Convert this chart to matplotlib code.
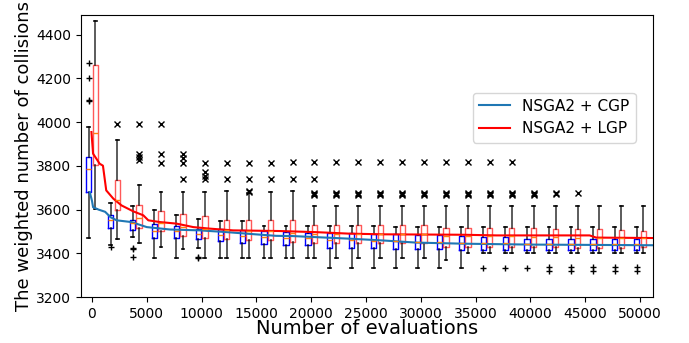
import matplotlib
matplotlib.use("Agg")
import matplotlib.pyplot as plt

# evaluation checkpoints for the boxes
evals = list(range(0, 50001, 2000))

# NSGA2 + CGP boxes
cgp_q1 = [3680, 3517, 3505, 3470, 3470, 3464, 3456, 3447, 3444, 3438, 3438, 3424, 3424,
          3424, 3418, 3418, 3418, 3417, 3417, 3417, 3417, 3417, 3417, 3417, 3417, 3417]
cgp_med = [3787, 3551, 3540, 3500, 3500, 3490, 3485, 3480, 3475, 3470, 3468, 3462, 3460,
           3458, 3455, 3452, 3450, 3448, 3447, 3445, 3443, 3442, 3442, 3442, 3442, 3442]
cgp_q3 = [3840, 3574, 3554, 3532, 3523, 3513, 3513, 3508, 3502, 3497, 3495, 3495, 3495,
          3490, 3487, 3482, 3482, 3478, 3475, 3473, 3467, 3465, 3465, 3465, 3465, 3465]
cgp_lo = [3470, 3440, 3475, 3380, 3380, 3425, 3380, 3380, 3380, 3380, 3380, 3333, 3333,
          3333, 3333, 3333, 3333, 3333, 3401, 3401, 3401, 3401, 3401, 3401, 3401, 3401]
cgp_hi = [3977, 3630, 3616, 3596, 3577, 3558, 3546, 3546, 3525, 3525, 3525, 3525, 3525,
          3525, 3520, 3520, 3520, 3520, 3520, 3520, 3520, 3520, 3520, 3520, 3520, 3520]
cgp_fliers = [[4270, 4200, 4100, 4095], [3429], [3425, 3420, 3383], [], [], [3382, 3380],
              [], [], [], [], [], [], [], [], [], [], [], [],
              [3335], [3335], [3335], [3337, 3320], [3337, 3320], [3337, 3320],
              [3337, 3320], [3337, 3320]]

# NSGA2 + LGP boxes
lgp_q1 = [3802, 3600, 3516, 3500, 3479, 3472, 3464, 3462, 3459, 3453, 3447, 3449, 3449,
          3449, 3449, 3449, 3429, 3429, 3429, 3429, 3429, 3429, 3426, 3426, 3426, 3429]
lgp_med = [3950, 3642, 3560, 3540, 3520, 3510, 3505, 3500, 3500, 3495, 3490, 3490, 3490,
           3490, 3490, 3490, 3480, 3478, 3478, 3478, 3475, 3475, 3472, 3470, 3468, 3468]
lgp_q3 = [4260, 3734, 3619, 3592, 3581, 3569, 3554, 3551, 3551, 3551, 3528, 3528, 3528,
          3528, 3528, 3528, 3517, 3517, 3517, 3517, 3517, 3510, 3510, 3510, 3505, 3502]
lgp_lo = [3604, 3467, 3449, 3429, 3421, 3380, 3380, 3380, 3380, 3380, 3380, 3380, 3380,
          3380, 3380, 3380, 3368, 3401, 3401, 3401, 3401, 3401, 3401, 3401, 3401, 3401]
lgp_hi = [4465, 3920, 3711, 3680, 3680, 3680, 3685, 3676, 3680, 3685, 3616, 3616, 3616,
          3616, 3616, 3616, 3616, 3616, 3616, 3616, 3616, 3616, 3616, 3616, 3616, 3616]
lgp_fliers = [[], [3993], [3993, 3853, 3840, 3828], [3993, 3853, 3815],
              [3853, 3838, 3815, 3738], [3815, 3772, 3752, 3738], [3815, 3738],
              [3815, 3738, 3683, 3680], [3815, 3738], [3820, 3741],
              [3820, 3741, 3677, 3670, 3665],
              [3820, 3677, 3670, 3665], [3820, 3677, 3670, 3665], [3820, 3677, 3670, 3665],
              [3820, 3677, 3670, 3665], [3820, 3677, 3670, 3665], [3820, 3677, 3670, 3665],
              [3820, 3677, 3670, 3665], [3820, 3677, 3670, 3665], [3820, 3677, 3670, 3665],
              [3677, 3670, 3665], [3677, 3670], [3677], [], [], []]

# running lines
cgp_x = [-200, 0, 100, 600, 1200, 1700, 2250, 3600, 5000, 7100, 9850, 12300, 14100,
         16800, 18300, 23500, 26500, 29600, 34000, 40000, 51200]
cgp_y = [3680, 3640, 3611, 3600, 3590, 3565, 3551, 3543, 3520, 3509, 3505, 3497, 3490,
         3480, 3479, 3467, 3459, 3449, 3444, 3440, 3437]
lgp_x = [-50, 100, 700, 1000, 1300, 1950, 2700, 3770, 4680, 5140, 6200, 7700, 8480, 9240,
         10750, 12870, 17130, 20400, 23500, 26500, 33800, 36900, 45400, 46000, 51200]
lgp_y = [3955, 3856, 3810, 3801, 3688, 3650, 3619, 3592, 3574, 3551, 3543, 3536, 3528,
         3520, 3513, 3505, 3502, 3497, 3490, 3487, 3485, 3482, 3482, 3472, 3470]


def make_stats(q1, med, q3, lo, hi, fl):
    return [dict(q1=a, med=b, q3=c, whislo=d, whishi=e, fliers=f)
            for a, b, c, d, e, f in zip(q1, med, q3, lo, hi, fl)]


fig = plt.figure(figsize=(6.89, 3.43), dpi=100)
ax = fig.add_axes([0.1176, 0.134, 0.8304, 0.822])

offs = 300
ax.bxp(make_stats(cgp_q1, cgp_med, cgp_q3, cgp_lo, cgp_hi, cgp_fliers),
       positions=[e - offs for e in evals], widths=480, capwidths=260,
       manage_ticks=False,
       boxprops=dict(color="blue", lw=1),
       whiskerprops=dict(color="black", lw=1.2, alpha=0.75),
       capprops=dict(color="black", lw=1.2),
       medianprops=dict(color="#ff7f0e", lw=1),
       flierprops=dict(marker="+", markeredgecolor="black", markersize=5, lw=0))
ax.bxp(make_stats(lgp_q1, lgp_med, lgp_q3, lgp_lo, lgp_hi, lgp_fliers),
       positions=[e + offs for e in evals], widths=480, capwidths=260,
       manage_ticks=False,
       boxprops=dict(color="red", lw=1, alpha=0.65),
       whiskerprops=dict(color="black", lw=1.2, alpha=0.75),
       capprops=dict(color="black", lw=1.2),
       medianprops=dict(color="#ff7f0e", lw=1),
       flierprops=dict(marker="x", markeredgecolor="black", markersize=5, lw=0))

ax.plot(cgp_x, cgp_y, color="#1f77b4", lw=1.5, label="NSGA2 + CGP")
ax.plot(lgp_x, lgp_y, color="red", lw=1.5, label="NSGA2 + LGP")

ax.set_xlim(-1000, 51200)
ax.set_ylim(3200, 4490)
ax.set_xticks(range(0, 50001, 5000))
ax.set_yticks(range(3200, 4401, 200))
ax.tick_params(labelsize=10)
ax.set_xlabel("Number of evaluations", fontsize=14, labelpad=-1)
ax.set_ylabel("The weighted number of collisions", fontsize=13, labelpad=2)
ax.legend(loc="upper right", bbox_to_anchor=(0.9825, 0.752), fontsize=11)

fig.savefig("out.png", dpi=100)
